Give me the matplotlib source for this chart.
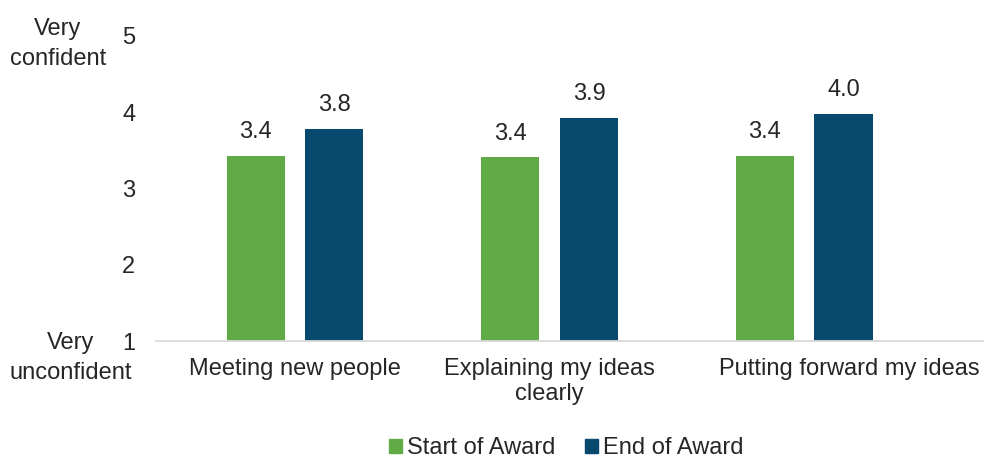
import matplotlib
matplotlib.use("Agg")
import matplotlib.pyplot as plt
import matplotlib.transforms as mtransforms
from matplotlib.patches import Patch
import numpy as np

plt.rcParams['font.family'] = ['Liberation Sans', 'DejaVu Sans']

categories = ["Meeting new people", "Explaining my ideas\nclearly", "Putting forward my ideas"]
series_names = ["Start of Award", "End of Award"]
start_vals = [3.43, 3.41, 3.43]
end_vals = [3.78, 3.93, 3.98]
yticks = [1, 2, 3, 4, 5]

GREEN = "#60AB46"
NAVY = "#084A6E"
TEXT = "#262626"
FS = 17

fig = plt.figure(figsize=(9.84, 4.57), dpi=100)
ax = fig.add_axes([156 / 984, 1 - 341 / 457, 1 - 156 / 984, (341 - 36) / 457])

x = np.arange(len(categories))
width = 0.228
offset = 0.155
b1 = ax.bar(x - offset, np.array(start_vals) - 1, width, bottom=1, color=GREEN)
b2 = ax.bar(x + offset, np.array(end_vals) - 1, width, bottom=1, color=NAVY)

for bars, vals in ((b1, start_vals), (b2, end_vals)):
    for rect, v in zip(bars, vals):
        ax.annotate(f"{v:.1f}", (rect.get_x() + rect.get_width() / 2, v),
                    xytext=(0, 17), textcoords="offset points",
                    ha="center", va="center", fontsize=FS, color=TEXT)

ax.set_ylim(1, 5)
ax.set_xlim(-0.546, 2.707)
ax.set_yticks(yticks)
ax.set_yticklabels([str(t) for t in yticks], fontsize=FS, color=TEXT)
ax.set_xticks(x)
ax.set_xticklabels(categories, fontsize=FS, color=TEXT, linespacing=1.2)
ax.tick_params(axis="both", length=0)
ax.tick_params(axis="y", pad=15)
ax.tick_params(axis="x", pad=12)

# nudge the last category label rightwards so it ends at the figure edge
lbl = ax.get_xticklabels()[-1]
lbl.set_transform(lbl.get_transform() + mtransforms.ScaledTranslation(45 / 100, 0, fig.dpi_scale_trans))

for s in ("top", "right", "left"):
    ax.spines[s].set_visible(False)
ax.spines["bottom"].set_color("#d9d9d9")
ax.spines["bottom"].set_linewidth(1.3)

fig.text(58 / 984, 1 - 44 / 457, "Very\nconfident", ha="center", va="center",
         multialignment="center", fontsize=FS, color=TEXT, linespacing=1.5)
fig.text(71 / 984, 1 - 358 / 457, "Very\nunconfident", ha="center", va="center",
         multialignment="center", fontsize=FS, color=TEXT, linespacing=1.5)

handles = [Patch(color=GREEN), Patch(color=NAVY)]
leg = fig.legend(handles, series_names, loc="center", bbox_to_anchor=(566 / 984, 1 - 448 / 457),
                 ncol=2, frameon=False, fontsize=FS, handlelength=0.55, handleheight=0.55,
                 handletextpad=0.2, columnspacing=1.27, borderpad=0)
for t in leg.get_texts():
    t.set_color(TEXT)

fig.savefig("out.png", dpi=100)
